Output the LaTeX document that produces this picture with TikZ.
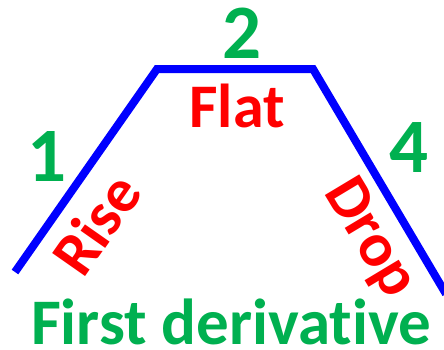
\documentclass[tikz,border=0pt]{standalone}
\usepackage{fontspec}
\setmainfont{Carlito}[Ligatures=NoCommon]
\definecolor{mygreen}{HTML}{00B050}
\definecolor{myred}{HTML}{FF0000}
\definecolor{myblue}{HTML}{0000FF}
\begin{document}
\begin{tikzpicture}[x=1pt,y=-1pt,
  num/.style={text=mygreen,font=\fontsize{77}{77}\selectfont\bfseries,inner sep=0pt},
  lab/.style={text=myred,font=\fontsize{62}{62}\selectfont\bfseries,inner sep=0pt},
  curve/.style={draw=myblue,line width=8pt,line join=miter}]
\useasboundingbox (0,0) rectangle (444,349);
\coordinate (a) at (15,272);
\coordinate (b) at (157,69);
\coordinate (c) at (313,69);
\coordinate (d) at (446,294);
\draw[curve] (a) -- (b) -- (c) -- (d);
\node[num] (n1) at (47,156) {1};
\node[num] (n2) at (242,33) {2};
\node[num] (n4) at (409,148) {4};
\node[lab] (flat) at (237,106) {Flat};
\node[lab,rotate=55] (rise) at (96,224) {Rise};
\node[lab,rotate=-59] (drop) at (369,239) {Drop};
\node[text=mygreen,font=\fontsize{65}{65}\selectfont\bfseries,inner sep=0pt] (fd) at (231,322) {First derivative};
\end{tikzpicture}
\end{document}
